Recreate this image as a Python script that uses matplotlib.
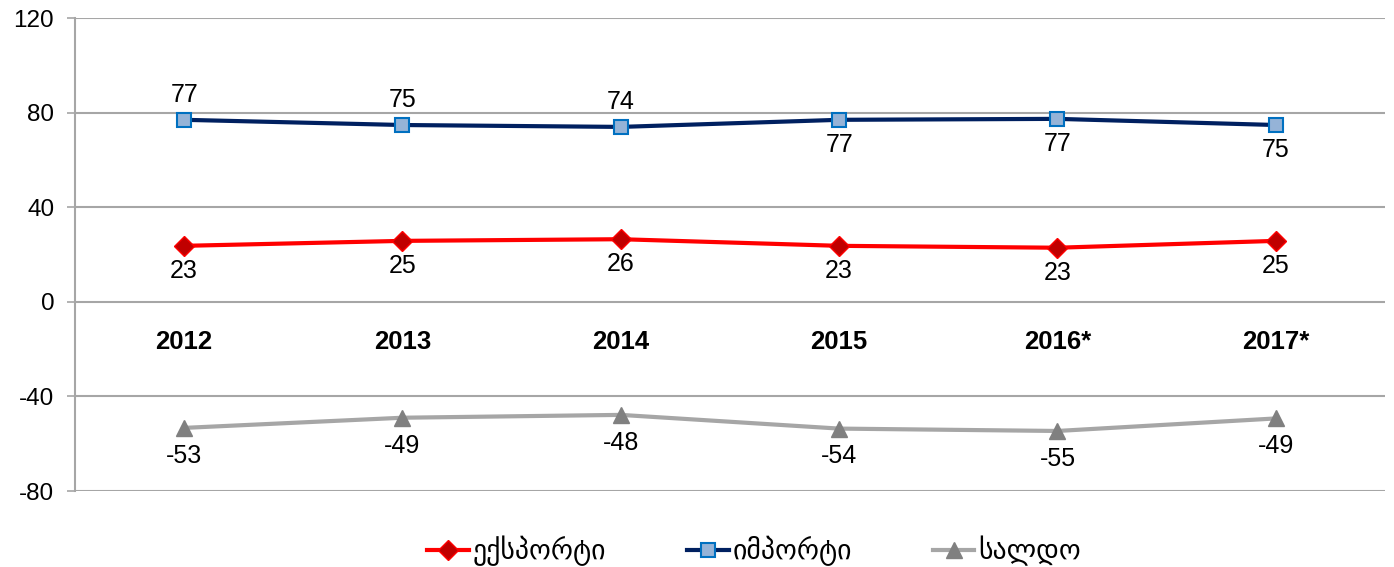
import matplotlib
matplotlib.use('Agg')
import matplotlib.pyplot as plt

plt.rcParams['font.family'] = ['Liberation Sans', 'DejaVu Sans']
plt.rcParams['axes.unicode_minus'] = False

YEARS = ['2012', '2013', '2014', '2015', '2016*', '2017*']
EXPORT = [23.7, 25.8, 26.5, 23.7, 22.9, 25.8]
IMPORT = [77.0, 74.8, 74.0, 77.0, 77.4, 74.8]
SALDO = [-53.3, -49.0, -47.8, -53.6, -54.6, -49.3]
EXPORT_LBL = ['23', '25', '26', '23', '23', '25']
IMPORT_LBL = ['77', '75', '74', '77', '77', '75']
SALDO_LBL = ['-53', '-49', '-48', '-54', '-55', '-49']
IMPORT_ABOVE = [True, True, True, False, False, False]
NAMES = ['ექსპორტი', 'იმპორტი', 'სალდო']

GRID = '#A6A6A6'

fig = plt.figure(figsize=(13.94, 5.67), dpi=100)
ax = fig.add_axes([0.0538, 0.134, 0.9397, 0.834])
x = list(range(len(YEARS)))

ax.plot(x, EXPORT, '-D', color='#FF0000', lw=3, ms=10,
        mfc='#C00000', mec='#FF0000', mew=1, label=NAMES[0], zorder=3)
ax.plot(x, IMPORT, '-s', color='#002060', lw=3, ms=10,
        mfc='#95B3D7', mec='#0070C0', mew=1.5, label=NAMES[1], zorder=3)
ax.plot(x, SALDO, '-^', color='#A6A6A6', lw=3, ms=11,
        mfc='#808080', mec='#808080', label=NAMES[2], zorder=3)

for i in x:
    ax.annotate(EXPORT_LBL[i], (i, EXPORT[i]), xytext=(0, -18),
                textcoords='offset points', ha='center', va='center', fontsize=18)
    off = 18 if IMPORT_ABOVE[i] else -18
    ax.annotate(IMPORT_LBL[i], (i, IMPORT[i]), xytext=(0, off),
                textcoords='offset points', ha='center', va='center', fontsize=18)
    ax.annotate(SALDO_LBL[i], (i, SALDO[i]), xytext=(0, -20),
                textcoords='offset points', ha='center', va='center', fontsize=18)
    ax.text(i, -17, YEARS[i], ha='center', va='center', fontsize=18.5,
            fontweight='bold')

ax.set_xlim(-0.5, len(YEARS) - 0.5)
ax.set_ylim(-80, 120)
ax.set_yticks([-80, -40, 0, 40, 80, 120])
ax.set_xticks([])
ax.tick_params(axis='y', labelsize=17.5, length=6, color=GRID, width=1.2, pad=9)
ax.yaxis.grid(True, color=GRID, lw=1.5)
ax.set_axisbelow(True)
for s in ['top', 'right', 'bottom']:
    ax.spines[s].set_visible(False)
ax.spines['left'].set_color(GRID)
ax.spines['left'].set_linewidth(1.5)

fig.legend(loc='center', bbox_to_anchor=(0.541, 0.028), ncol=3, frameon=False,
           fontsize=20, handlelength=1.5, handletextpad=0.15, columnspacing=2.9)

fig.savefig('out.png', dpi=100)
